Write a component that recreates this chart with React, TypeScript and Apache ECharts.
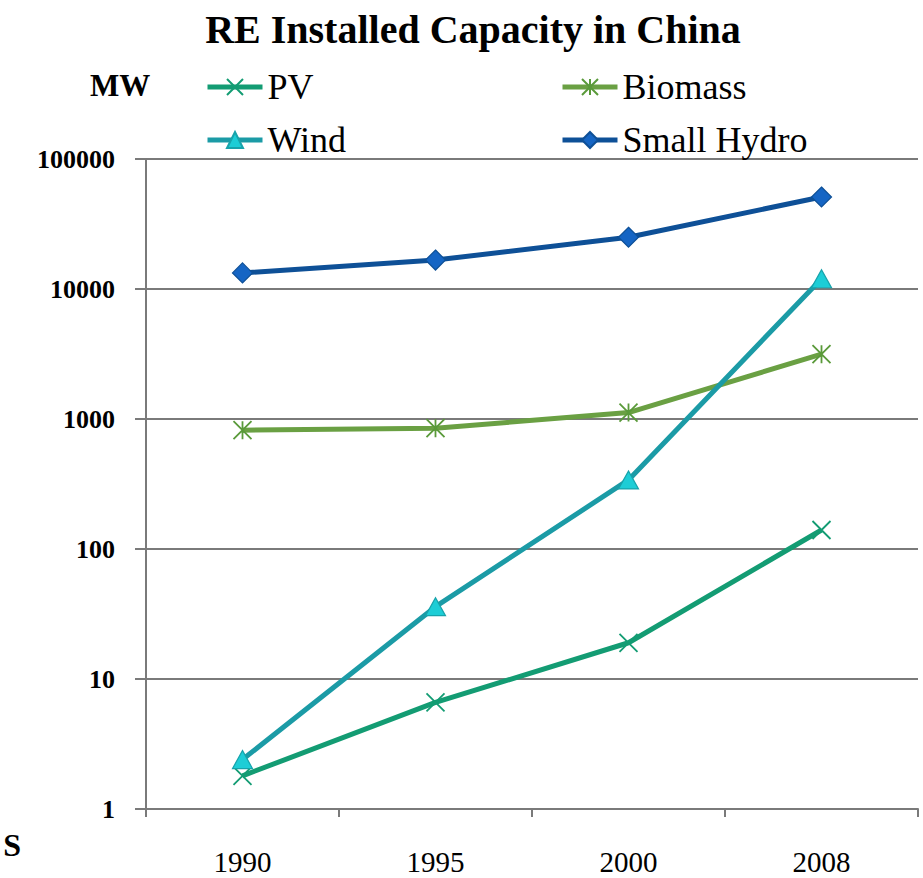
import React, { useEffect, useRef } from "react";
import * as echarts from "echarts";

// Installed renewable-energy capacity in China, MW (log scale)
const years = ["1990", "1995", "2000", "2008"];
const pv = [1.8, 6.6, 19, 140];
const wind = [2.4, 36, 340, 12000];
const biomass = [820, 850, 1120, 3150];
const smallHydro = [13300, 16700, 25000, 51000];
const yTicks = [1, 10, 100, 1000, 10000, 100000];

const serif = "'Liberation Serif', 'Times New Roman', serif";

const crossPath = "path://M0,0L10,10M10,0L0,10";
const starPath = "path://M5,0L5,10M0,0L10,10M10,0L0,10";

export default function App() {
  const ref = useRef<HTMLDivElement>(null);

  useEffect(() => {
    if (!ref.current) return;
    const chart = echarts.init(ref.current, undefined, { renderer: "svg" });

    const legendBase = {
      orient: "horizontal" as const,
      padding: 0,
      itemWidth: 55,
      itemHeight: 20,
      lineStyle: { width: 5 },
      textStyle: { fontSize: 36, fontFamily: serif, color: "#000" },
    };

    chart.setOption({
      animation: false,
      backgroundColor: "#ffffff",
      title: {
        text: "RE Installed Capacity in China",
        left: 468,
        textAlign: "center",
        top: 4,
        textStyle: { fontSize: 40, fontWeight: "bold", fontFamily: serif, color: "#000" },
      },
      graphic: [
        {
          type: "text",
          left: 90,
          top: 70,
          style: { text: "MW", font: `bold 31px ${serif}`, fill: "#000" },
        },
        {
          type: "text",
          x: 21,
          y: 845,
          style: {
            text: "S",
            font: `bold 32px ${serif}`,
            fill: "#000",
            textAlign: "right",
            textVerticalAlign: "middle",
          },
        },
      ],
      legend: [
        { ...legendBase, data: ["PV"], left: 205, top: 69 },
        { ...legendBase, data: ["Biomass"], left: 560, top: 69 },
        { ...legendBase, data: ["Wind"], left: 205, top: 122 },
        { ...legendBase, data: ["Small Hydro"], left: 560, top: 122 },
      ],
      grid: { left: 146, right: 5, top: 159, bottom: 69, containLabel: false },
      xAxis: {
        type: "category",
        data: years,
        boundaryGap: true,
        axisLine: { show: true, lineStyle: { color: "#7a7a7a", width: 2 } },
        axisTick: { show: true, length: 8, interval: 0, lineStyle: { color: "#7a7a7a", width: 2 } },
        axisLabel: { margin: 38, fontSize: 29, fontFamily: serif, color: "#000" },
        splitLine: { show: false },
      },
      yAxis: {
        type: "log",
        logBase: 10,
        min: yTicks[0],
        max: yTicks[yTicks.length - 1],
        axisLine: { show: true, lineStyle: { color: "#7a7a7a", width: 2 } },
        axisTick: { show: true, length: 11, inside: false, lineStyle: { color: "#7a7a7a", width: 2 } },
        axisLabel: {
          margin: 31,
          fontSize: 26,
          fontWeight: "bold",
          fontFamily: serif,
          color: "#000",
          formatter: (v: number) => String(Math.round(v)),
        },
        splitLine: { show: true, lineStyle: { color: "#7a7a7a", width: 2 } },
        minorTick: { show: false },
      },
      series: [
        {
          name: "PV",
          type: "line",
          data: pv,
          symbol: crossPath,
          symbolSize: 18,
          lineStyle: { color: "#139c73", width: 5 },
          itemStyle: { color: "rgba(0,0,0,0)", borderColor: "#139c73", borderWidth: 1.8 },
          z: 2,
        },
        {
          name: "Biomass",
          type: "line",
          data: biomass,
          symbol: starPath,
          symbolSize: 18,
          lineStyle: { color: "#6aa043", width: 5 },
          itemStyle: { color: "rgba(0,0,0,0)", borderColor: "#5a9a3a", borderWidth: 1.8 },
          z: 2,
        },
        {
          name: "Wind",
          type: "line",
          data: wind,
          symbol: "triangle",
          symbolSize: [20, 18],
          lineStyle: { color: "#1b9ba6", width: 5 },
          itemStyle: { color: "#1dcdd6", borderColor: "#17a3ab", borderWidth: 1.2 },
          z: 3,
        },
        {
          name: "Small Hydro",
          type: "line",
          data: smallHydro,
          symbol: "diamond",
          symbolSize: [20, 20],
          lineStyle: { color: "#0e5097", width: 5 },
          itemStyle: { color: "#1565c4", borderColor: "#0e5097", borderWidth: 1.2 },
          z: 3,
        },
      ],
    });

    return () => chart.dispose();
  }, []);

  return <div ref={ref} style={{ width: 923, height: 878, position: "absolute", left: 0, top: 0 }} />;
}
